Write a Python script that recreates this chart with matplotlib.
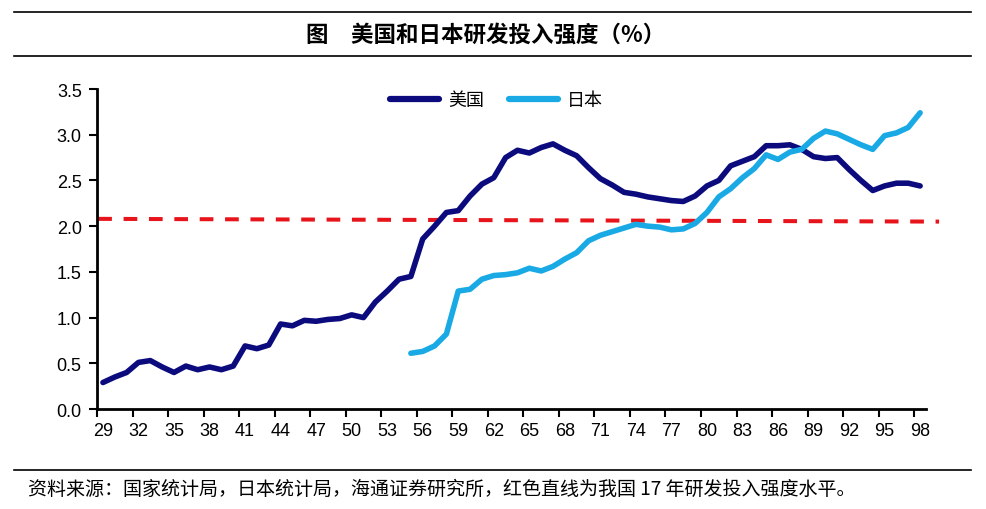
import numpy as np
import matplotlib
matplotlib.use("Agg")
import matplotlib.pyplot as plt
from matplotlib.lines import Line2D

plt.rcParams['font.family'] = ['Liberation Sans', 'Noto Sans CJK SC', 'DejaVu Sans']

years = list(range(29, 99))

us = [0.29, 0.35, 0.40, 0.51, 0.53, 0.46, 0.40, 0.47, 0.43, 0.46,
      0.43, 0.47, 0.69, 0.66, 0.70, 0.93, 0.91, 0.97, 0.96, 0.98,
      0.99, 1.03, 1.00, 1.17, 1.29, 1.42, 1.45, 1.86, 2.00, 2.15,
      2.17, 2.33, 2.46, 2.53, 2.75, 2.83, 2.80, 2.86, 2.90, 2.83,
      2.77, 2.64, 2.52, 2.45, 2.37, 2.35, 2.32, 2.30, 2.28, 2.27,
      2.33, 2.44, 2.50, 2.66, 2.71, 2.76, 2.88, 2.88, 2.89, 2.84,
      2.76, 2.74, 2.75, 2.62, 2.50, 2.39, 2.44, 2.47, 2.47, 2.44]

jp_years = list(range(55, 99))
jp = [0.61, 0.63, 0.69, 0.82, 1.29, 1.31, 1.42, 1.46, 1.47, 1.49,
      1.54, 1.51, 1.56, 1.64, 1.71, 1.84, 1.90, 1.94, 1.98, 2.02,
      2.00, 1.99, 1.96, 1.97, 2.03, 2.15, 2.32, 2.41, 2.53, 2.63,
      2.78, 2.73, 2.81, 2.84, 2.96, 3.04, 3.01, 2.95, 2.89, 2.84,
      2.99, 3.02, 3.08, 3.24]

# China 2017 R&D intensity reference line (drawn slightly tilted in the original)
china_line = [2.08, 2.05]

us_color = '#0B0B7E'
jp_color = '#19AAE6'

fig = plt.figure(figsize=(9.86, 5.10), dpi=100)
ax = fig.add_axes([0.0984, 0.196, 0.8408, 0.6275])

x_us = np.arange(len(years))
x_jp = np.array([years.index(y) for y in jp_years])

ax.plot(x_us, us, color=us_color, lw=4.0, solid_joinstyle='round', solid_capstyle='round', label='美国')
ax.plot(x_jp, jp, color=jp_color, lw=4.0, solid_joinstyle='round', solid_capstyle='round', label='日本')
ax.plot([-0.4, len(years) + 0.6], china_line, color='#E8141B', lw=2.9,
        dashes=(3.4, 2.9), dash_capstyle='butt', clip_on=False, zorder=1)

ax.set_ylim(0, 3.5)
ax.set_yticks(np.arange(0, 3.51, 0.5))
ax.set_yticklabels(['%.1f' % v for v in np.arange(0, 3.51, 0.5)])
ax.set_xlim(-0.5, len(years) - 0.5)

lab_pos = np.arange(0, len(years), 3)
ax.set_xticks(lab_pos)
ax.set_xticklabels([str(years[i]) for i in lab_pos])
ax.set_xticks(lab_pos - 0.5, minor=True)
ax.tick_params(axis='x', which='major', length=0, pad=9, labelsize=13)
ax.tick_params(axis='x', which='minor', length=6, width=1.5, direction='out')
ax.tick_params(axis='y', length=6, width=1.5, direction='out', labelsize=13, pad=5)

for s in ['top', 'right']:
    ax.spines[s].set_visible(False)
for s in ['left', 'bottom']:
    ax.spines[s].set_linewidth(2)

handles = [Line2D([], [], color=us_color, lw=4.5, solid_capstyle='round'),
           Line2D([], [], color=jp_color, lw=4.5, solid_capstyle='round')]
ax.legend(handles, ['美国', '日本'], loc='upper center', bbox_to_anchor=(0.482, 1.04),
          ncol=2, frameon=False, fontsize=13, handlelength=2.7, handletextpad=0.5,
          columnspacing=1.4)

# title and source lines
fig.add_artist(Line2D([0.014, 0.985], [1 - 13 / 510, 1 - 13 / 510], color='black', lw=1.2))
fig.add_artist(Line2D([0.014, 0.985], [1 - 57 / 510, 1 - 57 / 510], color='black', lw=1.2))
fig.add_artist(Line2D([0.014, 0.985], [1 - 471 / 510, 1 - 471 / 510], color='black', lw=1.2))
fig.text(0.493, 1 - 35 / 510, '图　美国和日本研发投入强度（%）', ha='center', va='center',
         fontsize=16.2, fontweight='bold', family=['Noto Sans CJK SC', 'DejaVu Sans'])
fig.text(0.028, 1 - 489 / 510, '资料来源：国家统计局，日本统计局，海通证券研究所，红色直线为我国 17 年研发投入强度水平。',
         ha='left', va='center', fontsize=13.7, family=['Noto Sans CJK SC', 'DejaVu Sans'])

fig.savefig('out.png', dpi=100)
